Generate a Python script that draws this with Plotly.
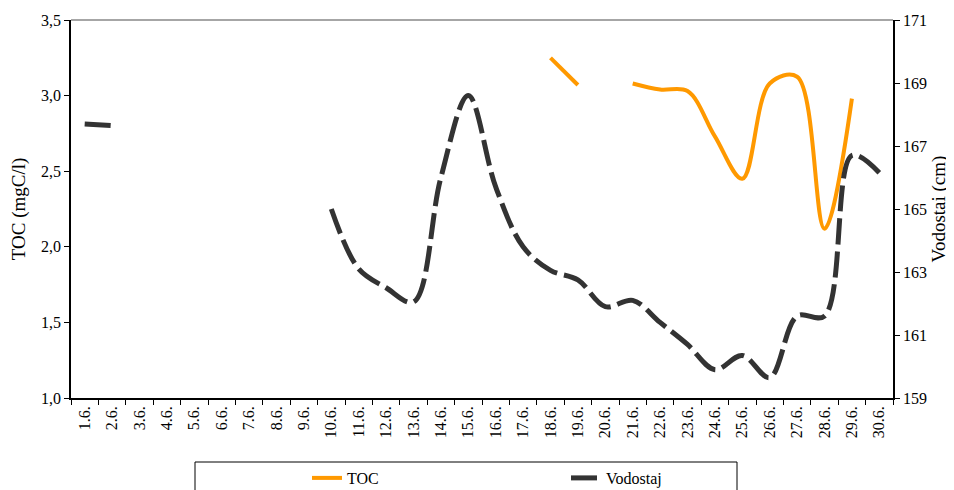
# TOC and Vodostaj (water level) for June, dual axis with smoothed lines.
import plotly.graph_objects as go

days = [f"{d}.6." for d in range(1, 31)]

toc = [None] * 17 + [3.25, 3.07, None, 3.08, 3.04, 3.03, 2.73, 2.45,
                     3.08, 3.125, 2.12, 2.98, None]

vodostaj = [167.7, 167.65, None, None, None, None, None, None, None,
            165.0, 163.1, 162.5, 162.05, 166.0, 168.6, 165.7, 163.8,
            163.05, 162.75, 161.9, 162.1, 161.4, 160.7, 159.9, 160.35,
            159.65, 161.6, 161.6, 166.7, 166.15]

font = "Liberation Serif"

# page body has an 8px margin, so the figure is sized to end at the window edge
W, H = 946, 482
L, T, PW, PH = 63, 12, 822, 378


def px(x):
    return (x - 8 - L) / PW


def py(y):
    return (T + PH - (y - 8)) / PH


fig = go.Figure()
fig.add_trace(go.Scatter(x=days, y=toc, name="TOC", mode="lines",
                         line=dict(color="#FF9900", width=4, shape="spline", smoothing=1),
                         connectgaps=False))
fig.add_trace(go.Scatter(x=days, y=vodostaj, name="Vodostaj", mode="lines", yaxis="y2",
                         line=dict(color="#333333", width=5, shape="spline", smoothing=1,
                                   dash="26px,7px"),
                         connectgaps=False))

fig.update_layout(
    width=W, height=H,
    margin=dict(l=L, r=W - L - PW, t=T, b=H - T - PH, autoexpand=False),
    paper_bgcolor="white", plot_bgcolor="white",
    separators=", ",
    font=dict(family=font, size=16, color="black"),
    showlegend=True,
    legend=dict(orientation="h", x=px(307), xanchor="left",
                y=py(461), yanchor="top", entrywidth=214,
                font=dict(family=font, size=16), bgcolor="rgba(0,0,0,0)"),
    xaxis=dict(type="category", range=[-0.5, 29.5], tickangle=-90,
               showline=True, linecolor="black", linewidth=1.5,
               ticks="outside", ticklen=5, tickcolor="black", tickson="boundaries",
               showgrid=False, zeroline=False),
    yaxis=dict(range=[1.0, 3.5], dtick=0.5, tickformat=".1f",
               showline=True, linecolor="black", linewidth=1.5,
               ticks="outside", ticklen=5, tickcolor="black",
               showgrid=False, zeroline=False,
               title=dict(text="TOC (mgC/l)", standoff=11)),
    yaxis2=dict(range=[159, 171], tick0=159, dtick=2, overlaying="y", side="right",
                showline=True, linecolor="black", linewidth=1.5,
                ticks="outside", ticklen=5, tickcolor="black",
                showgrid=False, zeroline=False,
                title=dict(text="Vodostai (cm)", standoff=6)),
    shapes=[
        dict(type="line", xref="paper", yref="paper", x0=0, x1=1, y0=1, y1=1,
             line=dict(color="#888888", width=1.5)),
        dict(type="rect", xref="paper", yref="paper",
             x0=px(195), x1=px(737), y0=py(462), y1=py(520),
             line=dict(color="black", width=1)),
    ],
)

fig.write_html("out.html")
